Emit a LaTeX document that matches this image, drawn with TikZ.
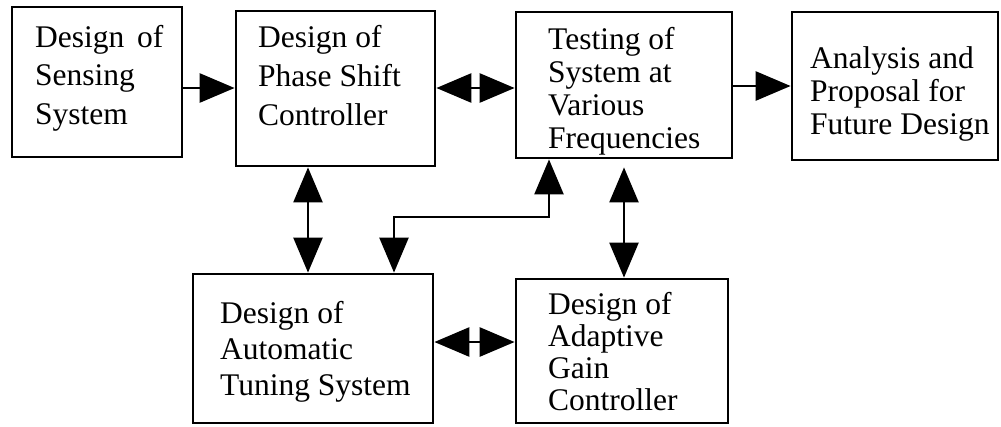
\documentclass[tikz,border=0pt]{standalone}
\usepackage{fontspec}
\setmainfont{Liberation Serif}
\usetikzlibrary{arrows.meta}
\begin{document}
\begin{tikzpicture}[x=1pt,y=-1pt,
  box/.style 2 args={draw, line width=2.8pt, inner sep=0pt,
    minimum width=#1, minimum height=#2},
  % anchored at the baseline of the last line
  txt/.style={anchor=base west, align=left, inner sep=0pt,
    font=\fontsize{31.5}{#1}\selectfont},
  tip/.tip={Triangle[length=35pt,width=29pt]},
  conn/.style={line width=2.8pt},
  thin/.style={line width=2.4pt}]
\useasboundingbox (0,0) rectangle (1001,426);

% blocks
\node[box={170pt}{150pt}] (sense) at (97,82) {};
\node[box={199pt}{155pt}] (phase) at (335.5,88.5) {};
\node[box={216pt}{146pt}] (test)  at (624,85) {};
\node[box={206pt}{148pt}] (anal)  at (895,86) {};
\node[box={240pt}{149pt}] (auto)  at (313,348.5) {};
\node[box={212pt}{144pt}] (adapt) at (622,351) {};

% block texts
\node[txt=38.5pt] (tsense) at (35,124)  {Design\hspace{0.4em}of\\Sensing\\System};
\node[txt=39pt]   (tphase) at (258,125) {Design of\\Phase Shift\\Controller};
\node[txt=33pt]   (ttest)  at (548,148) {Testing of\\System at\\Various\\Frequencies};
\node[txt=33pt]   (tanal)  at (810,134) {Analysis and\\Proposal for\\Future Design};
\node[txt=36pt]   (tauto)  at (220,395) {Design of\\Automatic\\Tuning System};
\node[txt=32pt]   (tadapt) at (548,410) {Design of\\Adaptive\\Gain\\Controller};

% connectors
\draw[conn,-tip] (sense.east |- 0,88) -- (phase.west |- 0,88);
\draw[conn,tip-tip] (phase.east |- 0,88) -- (test.west |- 0,88);
\draw[conn,-tip] (test.east |- 0,86) -- (anal.west |- 0,86);
\draw[conn,tip-tip] (auto.east |- 0,342) -- (adapt.west |- 0,342);
\draw[thin,tip-tip] (phase.south -| 308,0) -- (auto.north -| 308,0);
\draw[thin,tip-tip,shorten <=8pt] (test.south) -- (adapt.north -| test.south);
\coordinate (bendA) at (549,217);
\coordinate (bendB) at (394,217);
\draw[thin,tip-tip] (test.south -| bendA) -- (bendA) -- (bendB) -- (auto.north -| bendB);
\end{tikzpicture}
\end{document}
